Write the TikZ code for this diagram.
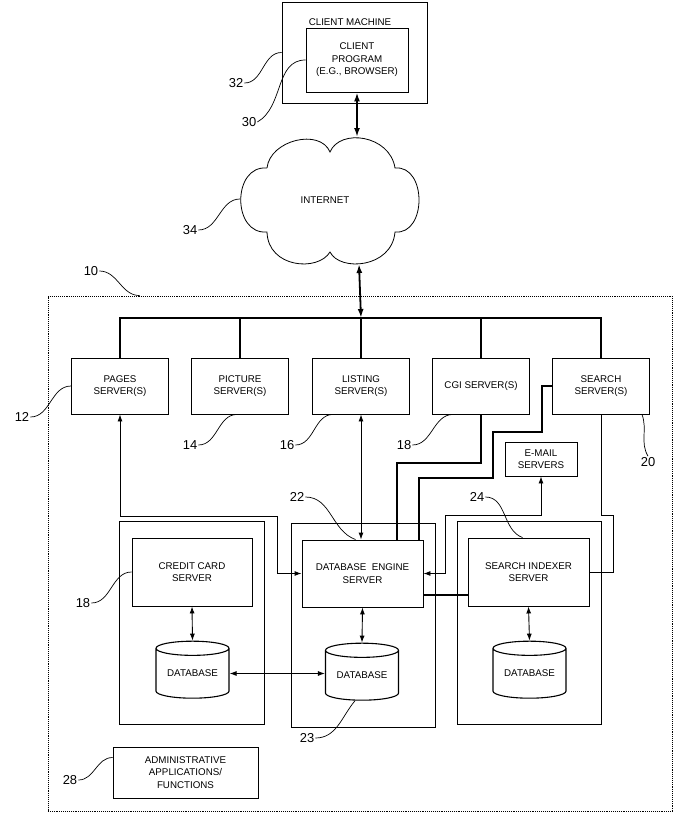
\documentclass[tikz,border=0pt]{standalone}
\usepackage{fontspec}
\setmainfont{Liberation Sans}
\usetikzlibrary{shapes.geometric,arrows.meta}

\begin{document}
\begin{tikzpicture}[x=1bp,y=-1bp]
  \tikzset{box/.style={draw,line width=0.9bp,align=center,inner sep=0pt,font=\fontsize{9.8}{12.5}\selectfont},
    thickline/.style={line width=1.8bp,{Latex[length=9bp,width=6bp]}-{Latex[length=9bp,width=6bp]}},
    thinline/.style={line width=0.9bp,{Latex[length=7bp,width=5bp]}-{Latex[length=7bp,width=5bp]}},
    leader/.style={line width=0.7bp},
    num/.style={inner sep=1bp,font=\fontsize{13}{13}\selectfont},
    dbase/.style={draw,cylinder,shape border rotate=90,aspect=0.28,line width=1.1bp,inner sep=0pt,
      minimum width=73bp,minimum height=57bp,font=\fontsize{9.8}{12.5}\selectfont}}
  \def\srvw{97bp}
  \def\srvh{56bp}
  \useasboundingbox (0,0) rectangle (675,816);

  % client side
  \node[box,minimum width=145bp,minimum height=101bp] (machine) at (354.5,52.5) {};
  \node[font=\fontsize{9.8}{12.5}\selectfont,inner sep=0pt] (machinelbl) at (350,22) {CLIENT MACHINE};
  \node[box,minimum width=102bp,minimum height=64bp] (client) at (357,60) {CLIENT\\PROGRAM\\(E.G., BROWSER)};

  \draw[line width=0.8bp] (267,168) .. controls (270,140) and (320,128) .. (330,152)
    .. controls (340,128) and (390,135) .. (395,168)
    .. controls (427,165) and (427,235) .. (395,232)
    .. controls (392,268) and (340,272) .. (330,252)
    .. controls (318,272) and (268,268) .. (267,232)
    .. controls (232,235) and (232,165) .. (267,168);
  \node[font=\fontsize{9.8}{12.5}\selectfont] (internet) at (325,200) {INTERNET};
  \coordinate (ctop) at (357,137);
  \coordinate (cbot) at (359,264);
  \coordinate (cleft) at (240,199);

  % system
  \node[draw,densely dotted,line width=0.9bp,minimum width=624bp,minimum height=515bp] (system) at (360,553.5) {};
  \coordinate (bus) at (361,318);

  \node[box,minimum width=\srvw,minimum height=\srvh] (pages) at (120,386) {PAGES\\SERVER(S)};
  \node[box,minimum width=\srvw,minimum height=\srvh] (picture) at (240,386) {PICTURE\\SERVER(S)};
  \node[box,minimum width=\srvw,minimum height=\srvh] (listing) at (361,386) {LISTING\\SERVER(S)};
  \node[box,minimum width=\srvw,minimum height=\srvh] (cgi) at (481,386) {CGI SERVER(S)};
  \node[box,minimum width=\srvw,minimum height=\srvh] (search) at (601,386) {SEARCH\\SERVER(S)};
  \node[box,minimum width=72bp,minimum height=34bp] (email) at (541,459) {E-MAIL\\SERVERS};

  \node[box,minimum width=145bp,minimum height=203bp] (grpL) at (191.5,622.5) {};
  \node[box,minimum width=144bp,minimum height=204bp] (grpM) at (363,625) {};
  \node[box,minimum width=144bp,minimum height=203bp] (grpR) at (529,622.5) {};
  \node[box,minimum width=120bp,minimum height=68bp] (credit) at (192,572) {CREDIT CARD\\SERVER};
  \node[box,minimum width=121bp,minimum height=67bp] (dbe) at (362.5,573.5) {DATABASE\ \ ENGINE\\SERVER};
  \node[box,minimum width=121bp,minimum height=68bp] (indexer) at (528.5,572) {SEARCH INDEXER\\SERVER};
  \node[dbase] (dbL) at (192.5,673.5) {DATABASE};
  \node[dbase] (dbM) at (362,675.5) {DATABASE};
  \node[dbase] (dbR) at (529.5,673.5) {DATABASE};
  \node[box,minimum width=145bp,minimum height=51bp] (admin) at (185.5,772.5) {ADMINISTRATIVE\\APPLICATIONS/\\FUNCTIONS};

  % connections
  \draw[thickline] (client.south) -- (ctop);
  \draw[thickline] (cbot) -- (bus);
  \draw[thickline,-] (pages.north) |- (bus) -| (search.north);
  \foreach \s in {picture,listing,cgi}
    \draw[thickline,-] (\s.north) -- (\s.north |- bus);

  \coordinate (pgA) at (277,516);
  \draw[thinline] (pages.south) |- (pgA) |- (dbe.west);
  \draw[thinline] (listing.south) -- (listing.south |- dbe.north);
  \coordinate (cgA) at (397,463);
  \draw[thickline,-] (cgi.south) |- (cgA) -- (cgA |- dbe.north);
  \coordinate (srA) at (542,432);
  \coordinate (srB) at (493,478);
  \coordinate (srC) at (419,0);
  \draw[thickline,-] (search.west) -| (srA) -| (srB) -| (srC |- dbe.north);
  \coordinate (emA) at (445,515);
  \draw[thinline] (email.south) |- (emA) |- (dbe.east);
  \coordinate (srD) at (613,515);
  \draw[thinline,-] (search.south) |- (srD) |- (indexer.east);
  \coordinate (dbeS) at ([yshift=-21.5bp]dbe.east);
  \draw[thickline,-] (dbeS) -- (dbeS -| indexer.west);
  \foreach \s/\d in {credit/dbL,dbe/dbM,indexer/dbR}
    \draw[thinline] (\s.south) -- (\d.north);
  \draw[thinline] (dbL.east) -- (dbL.east -| dbM.west);

  % reference numbers
  \node[num] (n32) at (236,83) {32};
  \node[num] (n30) at (249,122) {30};
  \node[num] (n34) at (190,230) {34};
  \node[num] (n10) at (91,271) {10};
  \node[num] (n12) at (22,417) {12};
  \node[num] (n14) at (190,445) {14};
  \node[num] (n16) at (287,445) {16};
  \node[num] (n18b) at (404,445) {18};
  \node[num] (n20) at (648,462) {20};
  \node[num] (n22) at (297,497) {22};
  \node[num] (n24) at (477,497) {24};
  \node[num] (n18a) at (83,603) {18};
  \node[num] (n23) at (307,738) {23};
  \node[num] (n28) at (70,780) {28};

  \draw[leader] (n32.east) to[out=0,in=180] (machine.west);
  \draw[leader] (n30.east) to[out=30,in=180] (client.west);
  \draw[leader] (n34.east) to[out=0,in=180] (cleft);
  \draw[leader] (n10.east) to[out=0,in=180] ([xshift=92bp]system.north west);
  \draw[leader] (n12.east) to[out=0,in=180] (pages.west);
  \draw[leader] (n14.east) to[out=0,in=180] ([xshift=-3bp]picture.south);
  \draw[leader] (n16.east) to[out=0,in=180] ([xshift=-28bp]listing.south);
  \draw[leader] (n18b.east) to[out=0,in=180] ([xshift=-28bp]cgi.south);
  \draw[leader] (n20.north) to[out=120,in=-70] ([xshift=41bp]search.south);
  \draw[leader] (n22.east) to[out=0,in=160] ([xshift=-7bp]dbe.north);
  \draw[leader] (n24.east) to[out=0,in=160] ([xshift=-6bp]indexer.north);
  \draw[leader] (n18a.east) to[out=0,in=180] (credit.west);
  \draw[leader] (n23.east) to[out=0,in=230] ([xshift=-7bp]dbM.south);
  \draw[leader] (n28.east) to[out=0,in=180] ([yshift=15bp]admin.west);
\end{tikzpicture}
\end{document}
